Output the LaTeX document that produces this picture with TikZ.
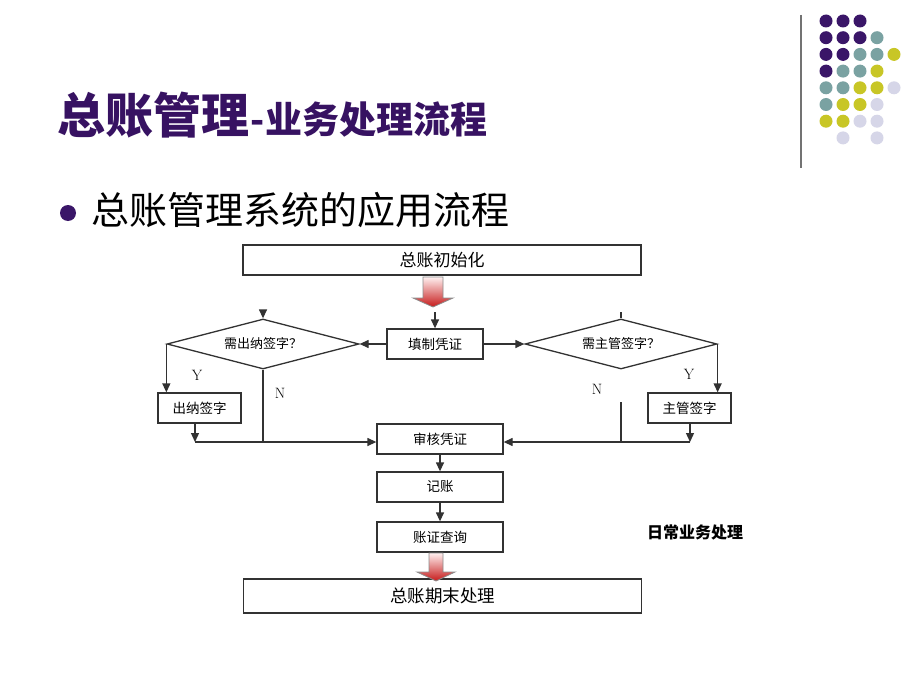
\documentclass[tikz,border=0pt]{standalone}
\usepackage{fontspec}
\newfontfamily\cjk{Noto Sans CJK SC}
\usetikzlibrary{calc,positioning,arrows.meta,shapes.geometric}
\definecolor{titlepurple}{RGB}{55,18,98}
\definecolor{dotpurple}{RGB}{58,22,104}
\definecolor{dotteal}{RGB}{122,162,162}
\definecolor{dotyellow}{RGB}{200,198,38}
\definecolor{dotlilac}{RGB}{214,214,232}
\definecolor{flowline}{RGB}{50,50,50}
\tikzset{
    every node/.style={
        font=\cjk\fontsize{13.5}{16}\selectfont,
        inner sep=0pt
    },
    block/.style={
        shape=rectangle,
        draw=flowline,
        line width=1.3pt,
        minimum width=126pt,
        minimum height=30pt
    },
    smallblock/.style={
        block,
        minimum width=83pt
    },
    wideblock/.style={
        block,
        minimum width=398pt,
        font=\cjk\fontsize{17}{20}\selectfont
    },
    decision/.style={
        shape=diamond,
        draw=flowline,
        line width=1.3pt,
        aspect=3.8,
        minimum width=192pt,
        minimum height=50pt,
        font=\cjk\fontsize{13}{16}\selectfont
    },
    yesno/.style={
        font=\rmfamily\fontsize{15}{15}\selectfont
    },
    bigarrow/.style={
        draw=black!45,
        line width=0.8pt,
        top color=red!6,
        bottom color=red!75!black!90
    }
}
\begin{document}
\begin{tikzpicture}[
            x=1pt, y=-1pt,
            >={Triangle[length=9pt,width=8pt]},
            line width=1.3pt
            ]
            \fill[white] (0,0) rectangle (920,690);
            \useasboundingbox (0,0) rectangle (920,690);

            % heading
            \node (t1) at (57,115) [anchor=west, text=titlepurple, font=\cjk\bfseries\fontsize{48}{52}\selectfont] {总账管理};
            \node (t2) at (t1.base east) [anchor=base west, text=titlepurple, font=\cjk\bfseries\fontsize{37}{40}\selectfont] {-业务处理流程};
            \draw[black!55, line width=1.5pt] (801,15) -- (801,168);

            % dots
            \foreach \c/\r/\col in {0/0/dotpurple,1/0/dotpurple,2/0/dotpurple,
                                    0/1/dotpurple,1/1/dotpurple,2/1/dotpurple,3/1/dotteal,
                                    0/2/dotpurple,1/2/dotpurple,2/2/dotteal,3/2/dotteal,4/2/dotyellow,
                                    0/3/dotpurple,1/3/dotteal,2/3/dotteal,3/3/dotyellow,
                                    0/4/dotteal,1/4/dotteal,2/4/dotyellow,3/4/dotyellow,4/4/dotlilac,
                                    0/5/dotteal,1/5/dotyellow,2/5/dotyellow,3/5/dotlilac,
                                    0/6/dotyellow,1/6/dotyellow,2/6/dotlilac,3/6/dotlilac,
                                    1/7/dotlilac,3/7/dotlilac}
                \fill[\col] ({826+17*\c},{21+16.7*\r}) circle (6.5);

            % bullet
            \fill[dotpurple] (68,213) circle (8);
            \node (sub) at (91,210) [anchor=west, font=\cjk\fontsize{38}{40}\selectfont] {总账管理系统的应用流程};

            % flow
            \node (init) at (442,260) [wideblock] {总账初始化};
            \node (fill) at (435,344) [block, minimum width=96pt] {填制凭证};
            \node (cd) at (263,344) [decision] {需出纳签字？};
            \node (md) at (621,344) [decision] {需主管签字？};
            \node (cs) at (199.5,408) [smallblock] {出纳签字};
            \node (ms) at (689.5,408) [smallblock] {主管签字};
            \node (audit) at (440,439) [block] {审核凭证};
            \node (post) at (440,487) [block] {记账};
            \node (query) at (440,537) [block] {账证查询};
            \node (close) at (442.5,596) [wideblock, minimum height=34pt, font=\cjk\fontsize{17.5}{20}\selectfont] {总账期末处理};
            \node (daily) at (695,532) [font=\cjk\bfseries\fontsize{16}{18}\selectfont] {日常业务处理};

            \node (y1) at (197,375) [yesno] {Y};
            \node (n1) at (280,393) [yesno] {N};
            \node (y2) at (689,374) [yesno] {Y};
            \node (n2) at (597,389) [yesno] {N};

            \coordinate (a1) at (433,277);
            \coordinate (a2) at (436,553);
            \coordinate (inf) at (435,312);
            \coordinate (inc) at (263,312);
            \coordinate (inm) at (621,312);
            \coordinate (jl) at (195,442);
            \coordinate (jr) at (690,442);
            \coordinate (nr) at (621,402);

            \shadedraw[bigarrow] ($(a1)+(-10,0)$) -- ++(20,0) -- ++(0,21) -- ++(10,0) -- ++(-20,9) -- ++(-20,-9) -- ++(10,0) -- cycle;
            \shadedraw[bigarrow] ($(a2)+(-7,0)$) -- ++(14,0) -- ++(0,19) -- ++(12,0) -- ++(-19,9) -- ++(-19,-9) -- ++(12,0) -- cycle;

            \draw [->, flowline] (inf) -- (fill.north);
            \draw [->, flowline] (inc) -- (cd.north);
            \draw [flowline] (inm) -- (md.north);
            \draw [->, flowline] (fill.west) -- (cd.east);
            \draw [->, flowline] (fill.east) -- (md.west);
            \draw [->, flowline] (cd.west) -- (cd.west |- cs.north);
            \draw [->, flowline] (md.east) -- (md.east |- ms.north);
            \draw [->, flowline] (cs.south -| jl) -- (jl);
            \draw [->, flowline] (ms.south -| jr) -- (jr);
            \draw [flowline] (cd.south) -- (cd.south |- jl);
            \draw [flowline] (nr) -- (nr |- jr);
            \draw [->, flowline] (jl) -- (jl -| audit.west);
            \draw [->, flowline] (jr) -- (jr -| audit.east);
            \draw [->, flowline] (audit.south) -- (post.north);
            \draw [->, flowline] (post.south) -- (query.north);
        \end{tikzpicture}
\end{document}
